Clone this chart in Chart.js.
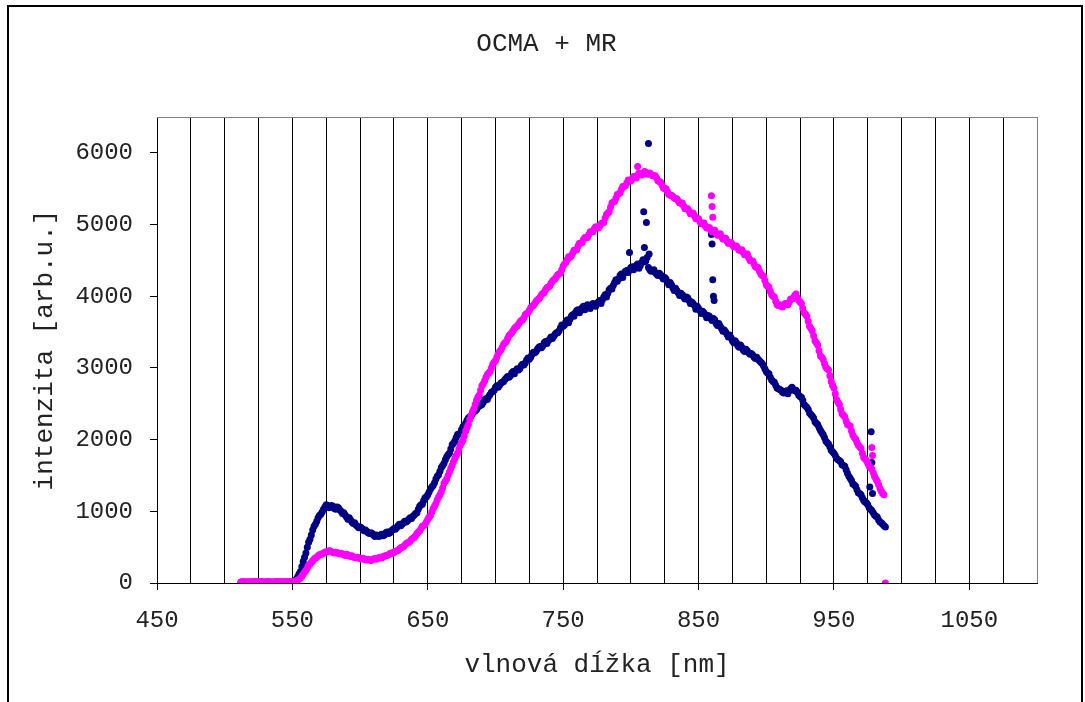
<!DOCTYPE html>
<html>
<head>
<meta charset="utf-8">
<title>OCMA + MR</title>
<script src="https://cdn.jsdelivr.net/npm/chart.js@4.4.1/dist/chart.umd.min.js"></script>
<style>
  html, body { margin: 0; padding: 0; background: #fff; }
  #wrap { width: 1085px; height: 702px; }
</style>
</head>
<body>
<div id="wrap"><canvas id="spektrum" width="1085" height="702"></canvas></div>
<script>
// vlnova dlzka [nm], parne vzorky
const wavelengthsEven = [
  512, 514, 516, 518, 520, 522, 524, 526, 528, 530, 532, 534, 536, 538, 540, 542, 544, 546, 548, 550,
  552, 554, 556, 558, 560, 562, 564, 566, 568, 570, 572, 574, 576, 578, 580, 582, 584, 586, 588, 590, 592, 594, 596, 598, 600,
  602, 604, 606, 608, 610, 612, 614, 616, 618, 620, 622, 624, 626, 628, 630, 632, 634, 636, 638, 640, 642, 644, 646, 648, 650,
  652, 654, 656, 658, 660, 662, 664, 666, 668, 670, 672, 674, 676, 678, 680, 682, 684, 686, 688, 690, 692, 694, 696, 698, 700,
  702, 704, 706, 708, 710, 712, 714, 716, 718, 720, 722, 724, 726, 728, 730, 732, 734, 736, 738, 740, 742, 744, 746, 748, 750,
  752, 754, 756, 758, 760, 762, 764, 766, 768, 770, 772, 774, 776, 778, 780, 782, 784, 786, 788, 790, 792, 794, 796, 798, 800,
  802, 804, 806, 808, 810, 812, 814, 816, 818, 820, 822, 824, 826, 828, 830, 832, 834, 836, 838, 840, 842, 844, 846, 848, 850,
  852, 854, 856, 858, 860, 862, 864, 866, 868, 870, 872, 874, 876, 878, 880, 882, 884, 886, 888, 890, 892, 894, 896, 898, 900,
  902, 904, 906, 908, 910, 912, 914, 916, 918, 920, 922, 924, 926, 928, 930, 932, 934, 936, 938, 940, 942, 944, 946, 948, 950,
  952, 954, 956, 958, 960, 962, 964, 966, 968, 970, 972, 974, 976, 978, 980, 982, 984, 986, 988
];

// vlnova dlzka [nm], neparne vzorky
const wavelengthsOdd = [
  513, 515, 517, 519, 521, 523, 525, 527, 529, 531, 533, 535, 537, 539, 541, 543, 545, 547, 549,
  551, 553, 555, 557, 559, 561, 563, 565, 567, 569, 571, 573, 575, 577, 579, 581, 583, 585, 587, 589, 591, 593, 595, 597, 599,
  601, 603, 605, 607, 609, 611, 613, 615, 617, 619, 621, 623, 625, 627, 629, 631, 633, 635, 637, 639, 641, 643, 645, 647, 649,
  651, 653, 655, 657, 659, 661, 663, 665, 667, 669, 671, 673, 675, 677, 679, 681, 683, 685, 687, 689, 691, 693, 695, 697, 699,
  701, 703, 705, 707, 709, 711, 713, 715, 717, 719, 721, 723, 725, 727, 729, 731, 733, 735, 737, 739, 741, 743, 745, 747, 749,
  751, 753, 755, 757, 759, 761, 763, 765, 767, 769, 771, 773, 775, 777, 779, 781, 783, 785, 787, 789, 791, 793, 795, 797, 799,
  801, 803, 805, 807, 809, 811, 813, 815, 817, 819, 821, 823, 825, 827, 829, 831, 833, 835, 837, 839, 841, 843, 845, 847, 849,
  851, 853, 855, 857, 859, 861, 863, 865, 867, 869, 871, 873, 875, 877, 879, 881, 883, 885, 887, 889, 891, 893, 895, 897, 899,
  901, 903, 905, 907, 909, 911, 913, 915, 917, 919, 921, 923, 925, 927, 929, 931, 933, 935, 937, 939, 941, 943, 945, 947, 949,
  951, 953, 955, 957, 959, 961, 963, 965, 967, 969, 971, 973, 975, 977, 979, 981, 983, 985, 987
];

// tmavomodra seria
const intensity1Even = [
  10, 5, 12, 8, 15, 6, 10, 14, 8, 12, 5, 10, 15, 9, 12, 7, 14, 10, 18, 22,
  30, 90, 160, 300, 420, 570, 670, 790, 860, 940, 990, 1060, 1080, 1060, 1070, 1030, 1050, 1000, 980, 920, 910, 850, 840, 790, 780,
  750, 740, 700, 700, 665, 670, 650, 680, 670, 710, 700, 740, 750, 800, 800, 840, 850, 890, 900, 950, 980, 1070, 1100, 1190, 1230,
  1310, 1360, 1450, 1510, 1610, 1670, 1760, 1810, 1930, 1980, 2070, 2090, 2180, 2230, 2300, 2330, 2390, 2420, 2470, 2490, 2560, 2560, 2630, 2670, 2730,
  2730, 2790, 2810, 2860, 2870, 2930, 2920, 2990, 2990, 3050, 3070, 3140, 3150, 3220, 3230, 3290, 3280, 3350, 3340, 3400, 3410, 3470, 3490, 3560, 3580,
  3640, 3630, 3720, 3720, 3800, 3770, 3840, 3810, 3880, 3830, 3900, 3860, 3920, 3900, 3990, 3990, 4090, 4100, 4190, 4210, 4290, 4260, 4350, 4330, 4400,
  4370, 4430, 4390, 4470, 4480, 4540, 4370, 4360, 4330, 4290, 4300, 4240, 4240, 4160, 4160, 4080, 4080, 4010, 4020, 3960, 3980, 3900, 3900, 3820, 3830,
  3760, 3770, 3700, 3720, 3660, 3670, 3590, 3580, 3510, 3500, 3430, 3420, 3350, 3350, 3290, 3290, 3230, 3240, 3190, 3180, 3130, 3120, 3080, 3030, 2950,
  2920, 2830, 2800, 2720, 2700, 2660, 2670, 2640, 2710, 2700, 2690, 2620, 2590, 2490, 2450, 2370, 2330, 2250, 2210, 2130, 2070, 1980, 1940, 1850, 1810,
  1740, 1710, 1650, 1630, 1530, 1460, 1380, 1350, 1260, 1230, 1150, 1120, 1050, 1010, 950, 920, 850, 820, 780
];
const intensity1Odd = [
  8, 10, 6, 12, 9, 14, 7, 11, 10, 6, 13, 8, 11, 10, 14, 9, 12, 16, 20,
  25, 55, 130, 230, 360, 500, 610, 740, 820, 910, 960, 1030, 1090, 1050, 1080, 1040, 1060, 1020, 970, 950, 890, 880, 830, 810, 770,
  770, 730, 720, 690, 690, 650, 660, 670, 660, 700, 690, 730, 760, 770, 820, 820, 860, 870, 910, 930, 970, 1030, 1090, 1150, 1200,
  1270, 1340, 1400, 1490, 1560, 1640, 1720, 1790, 1870, 1950, 2030, 2080, 2140, 2200, 2270, 2320, 2360, 2400, 2450, 2480, 2520, 2570, 2600, 2660, 2690,
  2750, 2760, 2800, 2840, 2880, 2890, 2950, 2960, 2970, 3030, 3040, 3110, 3120, 3190, 3210, 3260, 3300, 3310, 3370, 3380, 3430, 3440, 3490, 3520, 3600,
  3600, 3670, 3680, 3740, 3770, 3810, 3800, 3860, 3850, 3870, 3880, 3880, 3900, 3940, 3950, 4020, 4040, 4110, 4150, 4230, 4240, 4310, 4320, 4360, 4370,
  4410, 4400, 4450, 4430, 4510, 4490, 4400, 4350, 4370, 4310, 4320, 4270, 4260, 4200, 4190, 4120, 4110, 4050, 4040, 3990, 3990, 3940, 3920, 3870, 3860,
  3800, 3790, 3740, 3730, 3690, 3690, 3620, 3620, 3550, 3530, 3470, 3460, 3380, 3380, 3310, 3320, 3250, 3260, 3210, 3200, 3150, 3150, 3100, 3060, 2990,
  2930, 2870, 2810, 2760, 2710, 2690, 2650, 2680, 2680, 2730, 2680, 2660, 2600, 2550, 2470, 2420, 2350, 2300, 2230, 2170, 2100, 2030, 1960, 1900, 1830,
  1780, 1720, 1690, 1640, 1580, 1490, 1430, 1370, 1300, 1250, 1190, 1130, 1090, 1030, 980, 930, 880, 840, 800
];

// purpurova seria
const intensity2Even = [
  15, 20, 12, 18, 10, 16, 22, 14, 18, 12, 20, 15, 10, 18, 14, 20, 12, 16, 20, 18,
  25, 40, 70, 125, 175, 245, 285, 335, 360, 395, 405, 430, 440, 445, 425, 430, 410, 415, 395, 400, 375, 380, 355, 360, 340,
  345, 325, 330, 315, 335, 330, 355, 350, 375, 385, 410, 415, 440, 455, 490, 505, 550, 565, 610, 635, 690, 725, 790, 820, 890,
  940, 1040, 1110, 1200, 1270, 1390, 1450, 1550, 1640, 1740, 1810, 1920, 1990, 2120, 2210, 2340, 2430, 2550, 2620, 2750, 2820, 2910, 2950, 3050, 3100,
  3200, 3250, 3330, 3370, 3450, 3490, 3550, 3580, 3640, 3670, 3740, 3770, 3840, 3870, 3930, 3960, 4020, 4050, 4120, 4140, 4210, 4240, 4300, 4320, 4420,
  4470, 4550, 4560, 4640, 4650, 4740, 4750, 4820, 4820, 4900, 4900, 4970, 4950, 5010, 5030, 5140, 5180, 5300, 5320, 5420, 5440, 5530, 5540, 5620, 5610,
  5670, 5650, 5720, 5690, 5740, 5700, 5720, 5680, 5680, 5610, 5590, 5510, 5500, 5420, 5410, 5370, 5360, 5300, 5300, 5220, 5220, 5150, 5160, 5080, 5080,
  5010, 5020, 4950, 4960, 4900, 4920, 4850, 4870, 4800, 4810, 4740, 4750, 4690, 4700, 4640, 4650, 4580, 4590, 4500, 4490, 4410, 4400, 4310, 4280, 4160,
  4130, 4020, 3990, 3880, 3880, 3850, 3900, 3880, 3960, 3970, 4030, 3940, 3900, 3770, 3720, 3580, 3520, 3380, 3320, 3170, 3120, 3010, 2970, 2810, 2720,
  2560, 2490, 2360, 2320, 2210, 2190, 2060, 2010, 1920, 1880, 1750, 1710, 1630, 1590, 1490, 1420, 1320, 1250, 0
];
const intensity2Odd = [
  18, 14, 16, 12, 20, 18, 16, 20, 14, 16, 18, 12, 16, 20, 16, 14, 18, 15, 22,
  20, 30, 55, 95, 150, 210, 265, 310, 350, 380, 400, 420, 435, 450, 435, 420, 425, 405, 405, 385, 390, 370, 365, 350, 350,
  335, 335, 320, 325, 325, 340, 340, 360, 365, 380, 395, 420, 430, 450, 470, 500, 525, 560, 585, 625, 660, 710, 760, 800, 850,
  920, 990, 1070, 1160, 1230, 1330, 1420, 1500, 1600, 1690, 1780, 1870, 1960, 2050, 2170, 2280, 2390, 2490, 2590, 2690, 2780, 2870, 2930, 3000, 3080,
  3150, 3230, 3290, 3350, 3410, 3470, 3520, 3570, 3610, 3660, 3700, 3760, 3800, 3860, 3900, 3950, 3990, 4040, 4090, 4130, 4180, 4230, 4270, 4310, 4370,
  4450, 4510, 4540, 4600, 4640, 4700, 4740, 4790, 4820, 4860, 4900, 4940, 4960, 4980, 5020, 5090, 5160, 5240, 5310, 5370, 5430, 5490, 5530, 5580, 5610,
  5640, 5660, 5690, 5700, 5710, 5730, 5710, 5700, 5680, 5650, 5600, 5550, 5500, 5460, 5410, 5390, 5360, 5330, 5300, 5260, 5220, 5190, 5150, 5120, 5080,
  5040, 5010, 4980, 4950, 4930, 4910, 4880, 4860, 4830, 4800, 4770, 4740, 4720, 4690, 4670, 4640, 4610, 4580, 4540, 4490, 4450, 4400, 4350, 4290, 4220,
  4140, 4070, 4000, 3930, 3870, 3860, 3880, 3890, 3920, 3960, 4010, 3980, 3920, 3830, 3750, 3650, 3550, 3450, 3350, 3240, 3150, 3060, 2990, 2890, 2760,
  2640, 2520, 2420, 2340, 2260, 2200, 2120, 2030, 1960, 1900, 1810, 1730, 1670, 1610, 1540, 1450, 1370, 1280, 1230
];

// odlahle body (spicky pri 810, 860 a 978 nm)
const spikes1X = [799, 809.5, 810, 811.5, 813, 813.5, 859.5, 860, 860.5, 861, 861.5, 976.5, 977.5, 978, 978.5];
const spikes1Y = [4610, 5180, 4680, 5030, 6130, 4590, 4860, 4730, 4230, 4000, 3940, 1340, 2110, 1680, 1250];
const spikes2X = [805, 859.5, 860, 860.5, 978, 978.5];
const spikes2Y = [5810, 5400, 5250, 5100, 1890, 1780];

const xTickValues = [];
for (let v = 450; v <= 1100; v += 25) xTickValues.push(v);
const yTickValues = [0, 1000, 2000, 3000, 4000, 5000, 6000];

const FONT = "'Courier New', 'Liberation Mono', monospace";
const NAVY = '#000080';
const MAGENTA = '#ff00ff';

function toPoints(xs, ys) {
  return xs.map((x, i) => ({ x: x, y: ys[i] }));
}

// ramik okolo celeho grafu + siva horna a prava hrana plochy grafu
const frame = {
  id: 'frame',
  beforeDraw(chart) {
    const ctx = chart.ctx;
    ctx.save();
    ctx.fillStyle = '#fff';
    ctx.fillRect(0, 0, chart.width, chart.height);
    ctx.strokeStyle = '#000';
    ctx.lineWidth = 2;
    ctx.strokeRect(8, 6, 1074, 720);
    ctx.restore();
  },
  beforeDatasetsDraw(chart) {
    const a = chart.chartArea;
    const ctx = chart.ctx;
    ctx.save();
    ctx.strokeStyle = '#808080';
    ctx.lineWidth = 1;
    ctx.beginPath();
    ctx.moveTo(a.left, a.top + 0.5);
    ctx.lineTo(a.right + 0.5, a.top + 0.5);
    ctx.lineTo(a.right + 0.5, a.bottom);
    ctx.stroke();
    ctx.restore();
  }
};

new Chart(document.getElementById('spektrum'), {
  type: 'scatter',
  data: {
    datasets: [
      {
        label: 'séria 2',
        data: toPoints(wavelengthsEven, intensity2Even)
          .concat(toPoints(wavelengthsOdd, intensity2Odd))
          .concat(toPoints(spikes2X, spikes2Y)),
        backgroundColor: MAGENTA,
        borderColor: MAGENTA,
        pointRadius: 3.5,
        borderWidth: 0
      },
      {
        label: 'séria 1',
        data: toPoints(wavelengthsEven, intensity1Even)
          .concat(toPoints(wavelengthsOdd, intensity1Odd))
          .concat(toPoints(spikes1X, spikes1Y)),
        backgroundColor: NAVY,
        borderColor: NAVY,
        pointRadius: 3.5,
        borderWidth: 0
      }
    ]
  },
  options: {
    responsive: false,
    animation: false,
    events: [],
    layout: { padding: { left: 8, right: 0, top: 0, bottom: 0 } },
    plugins: {
      legend: { display: false },
      tooltip: { enabled: false },
      title: {
        display: true,
        text: 'OCMA + MR',
        color: '#222',
        font: { family: FONT, size: 26, weight: 'normal' },
        padding: { top: 28.4, bottom: 57.4 }
      }
    },
    scales: {
      x: {
        type: 'linear',
        min: 450,
        max: 1100,
        afterBuildTicks(scale) {
          scale.ticks = xTickValues.map(v => ({ value: v }));
        },
        afterFit(scale) { scale.height = 119; },
        ticks: {
          autoSkip: false,
          maxRotation: 0,
          padding: 16,
          color: '#222',
          font: { family: FONT, size: 24 },
          callback: v => ((v - 450) % 100 === 0 ? String(v) : '')
        },
        grid: {
          color: ctx => (ctx.tick && ctx.tick.value === 1100 ? '#808080' : '#000'),
          lineWidth: 1,
          tickLength: 7,
          tickColor: ctx => (ctx.tick && (ctx.tick.value - 450) % 100 === 0 ? '#000' : 'rgba(0,0,0,0)')
        },
        border: { color: '#000', width: 1 },
        title: {
          display: true,
          text: 'vlnová dĺžka [nm]',
          color: '#222',
          font: { family: FONT, size: 26 },
          padding: { top: 0, bottom: 21.4 }
        }
      },
      y: {
        type: 'linear',
        min: 0,
        max: 6500,
        afterBuildTicks(scale) {
          scale.ticks = yTickValues.map(v => ({ value: v }));
        },
        afterFit(scale) { scale.width = 149; },
        ticks: {
          padding: 17,
          color: '#222',
          font: { family: FONT, size: 24 },
          callback: v => String(v)
        },
        grid: {
          drawOnChartArea: false,
          tickLength: 7,
          tickColor: '#000'
        },
        border: { color: '#000', width: 1 },
        title: {
          display: true,
          text: 'intenzita [arb.u.]',
          color: '#222',
          font: { family: FONT, size: 26 },
          padding: { top: 21.4, bottom: 0 }
        }
      },
      // prazdny pruh vpravo od plochy grafu
      right: {
        type: 'linear',
        position: 'right',
        display: true,
        ticks: { display: false },
        grid: { display: false },
        border: { display: false },
        afterFit(scale) { scale.width = 48; }
      }
    }
  },
  plugins: [frame]
});
</script>
</body>
</html>
